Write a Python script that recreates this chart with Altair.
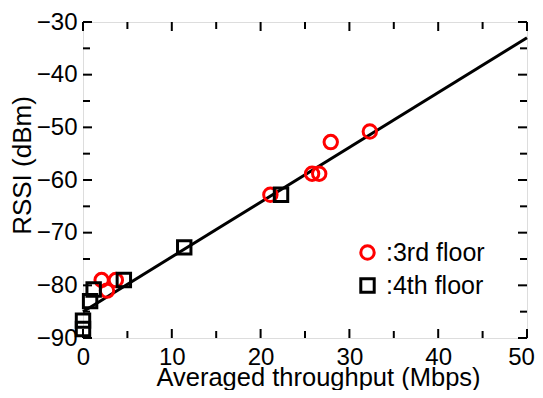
import altair as alt
import pandas as pd

# data
third_x = [32.3, 27.9, 26.6, 25.8, 21.1, 2.1, 3.7, 2.7]
third_y = [-50.8, -52.8, -58.8, -58.8, -62.8, -79.0, -79.0, -81.0]
fourth_x = [22.3, 11.4, 4.6, 1.2, 0.8, 0.0, 0.0]
fourth_y = [-62.8, -72.8, -79.0, -80.8, -83.0, -86.7, -88.3]
fit_x = [0, 50]
fit_y = [-85.0, -33.0]
series = [":3rd floor", ":4th floor"]
x_major = [0, 10, 20, 30, 40, 50]
x_minor = [5, 15, 25, 35, 45]
y_major = [-90, -80, -70, -60, -50, -40, -30]
y_minor = [-85, -75, -65, -55, -45, -35]

W, H = 444, 316
FONT = "Liberation Sans"

pts = pd.DataFrame({
    "x": third_x + fourth_x,
    "y": third_y + fourth_y,
    "floor": [series[0]] * len(third_x) + [series[1]] * len(fourth_x),
})
fit = pd.DataFrame({"x": fit_x, "y": fit_y})

xs = alt.Scale(domain=[0, 50], nice=False, zero=False)
ys = alt.Scale(domain=[-90, -30], nice=False, zero=False)
xaxis = alt.Axis(values=x_major, ticks=False, domain=False, grid=False,
                 labelFontSize=24, labelFont=FONT, labelColor="black",
                 labelPadding=7,
                 labelOffset=alt.condition("datum.value == 50", alt.value(-6), alt.value(0)),
                 title="Averaged throughput (Mbps)",
                 titleFontSize=25.5, titleFont=FONT, titleFontWeight="normal",
                 titleColor="black", titleBaseline="alphabetic", titleY=47,
                 titleAlign="center", titleX=235, labelFlush=False)
yaxis = alt.Axis(values=y_major, ticks=False, domain=False, grid=False,
                 labelFontSize=24, labelFont=FONT, labelColor="black",
                 labelPadding=6, title="RSSI (dBm)",
                 titleFontSize=26, titleFont=FONT, titleFontWeight="normal",
                 titleColor="black", titleAngle=-90, titleBaseline="middle",
                 titleAlign="center", titleX=-61, titleY=143, labelFlush=False)


def X():
    return alt.X("x:Q", scale=xs, axis=xaxis)


def Y():
    return alt.Y("y:Q", scale=ys, axis=yaxis)


def xticks(vals, length):
    df = pd.DataFrame({"x": vals})
    b = alt.Chart(df).mark_rule(color="black", strokeWidth=2)
    bottom = b.encode(x=X(), y=alt.value(H), y2=alt.value(H - length))
    top = b.encode(x=X(), y=alt.value(0), y2=alt.value(length))
    return [bottom, top]


def yticks(vals, length):
    df = pd.DataFrame({"y": vals})
    b = alt.Chart(df).mark_rule(color="black", strokeWidth=2)
    left = b.encode(y=Y(), x=alt.value(0), x2=alt.value(length))
    right = b.encode(y=Y(), x=alt.value(W), x2=alt.value(W - length))
    return [left, right]


ticks = xticks(x_major, 9) + xticks(x_minor, 7) + yticks(y_major, 9) + yticks(y_minor, 7)

line = alt.Chart(fit).mark_line(color="black", strokeWidth=3).encode(x=X(), y=Y())

points = alt.Chart(pts).mark_point(filled=False, strokeWidth=3, size=180, opacity=1).encode(
    x=X(), y=Y(),
    color=alt.Color("floor:N", scale=alt.Scale(domain=series, range=["#ff0000", "#000000"]),
                    legend=alt.Legend(orient="none", legendX=272, legendY=218, title=None,
                                      labelFontSize=25, labelFont=FONT, labelColor="black",
                                      symbolSize=180, symbolStrokeWidth=3, symbolType="circle",
                                      labelOffset=6, rowPadding=6, padding=0)),
    shape=alt.Shape("floor:N", scale=alt.Scale(domain=series, range=["circle", "square"])),
)

chart = alt.layer(line, *ticks, points).properties(
    width=W, height=H,
    autosize=alt.AutoSizeParams(type="none"),
    padding={"left": 75, "top": 14, "right": 8, "bottom": 52},
).configure_view(stroke="black", strokeWidth=2).configure(background="white")

chart.save("out.html", embed_options={"renderer": "svg", "actions": False})
